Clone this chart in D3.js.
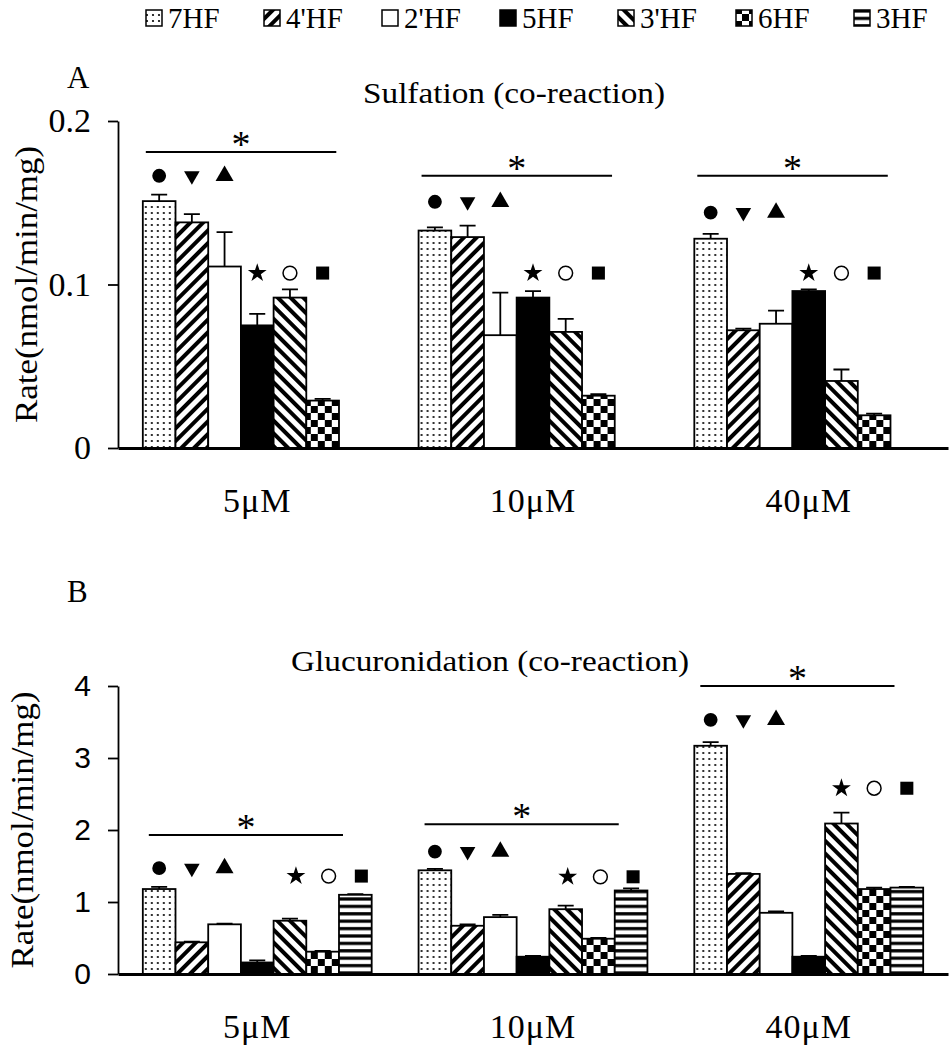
<!DOCTYPE html>
<html>
<head>
<meta charset="utf-8">
<script src="https://cdn.jsdelivr.net/npm/d3@7"></script>
<style>
  body { margin: 0; background: #fff; }
  text { font-family: "Times New Roman", "Liberation Serif", Tinos, serif; fill: #000; }
</style>
</head>
<body>
<script>
// categories
const groups = ["5μM", "10μM", "40μM"]
const compounds = ["7HF", "4'HF", "2'HF", "5HF", "3'HF", "6HF", "3HF"]

// A: sulfation rate (nmol/min/mg), one array per concentration, order = compounds (no 3HF)
const sulfRate5  = [0.151, 0.138, 0.111, 0.075, 0.092, 0.029]
const sulfRate10 = [0.133, 0.129, 0.069, 0.092, 0.071, 0.032]
const sulfRate40 = [0.128, 0.072, 0.076, 0.096, 0.041, 0.020]
const sulfErr5   = [0.004, 0.005, 0.021, 0.007, 0.005, 0.001]
const sulfErr10  = [0.002, 0.007, 0.026, 0.004, 0.008, 0.001]
const sulfErr40  = [0.003, 0.001, 0.008, 0.001, 0.007, 0.001]

// B: glucuronidation rate
const glucRate5  = [1.18, 0.44, 0.69, 0.16, 0.74, 0.31, 1.10]
const glucRate10 = [1.44, 0.67, 0.79, 0.24, 0.90, 0.49, 1.16]
const glucRate40 = [3.17, 1.39, 0.85, 0.24, 2.09, 1.18, 1.20]
const glucErr5   = [0.03, 0.01, 0.01, 0.03, 0.03, 0.01, 0.01]
const glucErr10  = [0.02, 0.02, 0.03, 0.01, 0.05, 0.01, 0.03]
const glucErr40  = [0.05, 0.01, 0.02, 0.01, 0.15, 0.02, 0.01]

// significance marks (in data units): "*" line, first and second symbol rows
const sulfStarLine = [0.181, 0.1665, 0.1665]
const sulfRow1     = [0.1665, 0.1506, 0.144]
const sulfRow2     = [0.107, 0.107, 0.107]
const glucStarLine = [1.93, 2.08, 4.0]
const glucRow1     = [1.47, 1.70, 3.53]
const glucRow2     = [1.36, 1.35, 2.58]

// tick labels
const sulfTicks = [0, 0.1, 0.2]
const glucTicks = [0, 1, 2, 3, 4]

const fills = ["url(#dots)", "url(#diagUp)", "#fff", "#000", "url(#diagDown)", "url(#checker)", "url(#hstripe)"]

const W = 949, H = 1050
const serif = "'Times New Roman', 'Liberation Serif', Tinos, serif"
const sans = "Arial, 'Liberation Sans', Arimo, sans-serif"

const svg = d3.select("body").append("svg")
  .attr("width", W)
  .attr("height", H)

// hatch patterns
const defs = svg.append("defs")

const dots = defs.append("pattern").attr("id", "dots")
  .attr("patternUnits", "userSpaceOnUse").attr("width", 6).attr("height", 6)
dots.append("rect").attr("width", 6).attr("height", 6).attr("fill", "#fff")
dots.append("circle").attr("cx", 3).attr("cy", 3).attr("r", 1.1).attr("fill", "#000")

function diag(id, angle) {
  const p = defs.append("pattern").attr("id", id)
    .attr("patternUnits", "userSpaceOnUse").attr("width", 9).attr("height", 9)
    .attr("patternTransform", "rotate(" + angle + ")")
  p.append("rect").attr("width", 9).attr("height", 9).attr("fill", "#fff")
  p.append("rect").attr("width", 4).attr("height", 9).attr("fill", "#000")
}
diag("diagUp", 45)
diag("diagDown", -45)

const checker = defs.append("pattern").attr("id", "checker")
  .attr("patternUnits", "userSpaceOnUse").attr("width", 14).attr("height", 14)
checker.append("rect").attr("width", 14).attr("height", 14).attr("fill", "#fff")
checker.append("rect").attr("width", 7).attr("height", 7).attr("fill", "#000")
checker.append("rect").attr("x", 7).attr("y", 7).attr("width", 7).attr("height", 7).attr("fill", "#000")

const hstripe = defs.append("pattern").attr("id", "hstripe")
  .attr("patternUnits", "userSpaceOnUse").attr("width", 8).attr("height", 7.4)
hstripe.append("rect").attr("width", 8).attr("height", 7.4).attr("fill", "#fff")
hstripe.append("rect").attr("y", 2).attr("width", 8).attr("height", 3.2).attr("fill", "#000")

// legend
const legend = svg.append("g")
compounds.forEach((c, i) => {
  const lx = 146 + i * 118
  legend.append("rect")
    .attr("x", lx).attr("y", 10).attr("width", 16).attr("height", 16)
    .attr("fill", fills[i]).attr("stroke", "#000").attr("stroke-width", 1.5)
  legend.append("text")
    .attr("x", lx + 22).attr("y", 28)
    .style("font-family", serif)
    .style("font-size", "29px")
    .text(c)
})

function drawPanel(cfg) {
  const y = d3.scaleLinear().domain([0, cfg.max]).range([cfg.y0, cfg.yTop])
  const x0 = d3.scaleBand().domain(groups).range([118, 948]).paddingInner(0.17).paddingOuter(0.09)
  const x1 = d3.scaleBand().domain(compounds).range([0, x0.bandwidth()])

  const g = svg.append("g")

  // panel letter + title
  g.append("text").attr("x", 67).attr("y", cfg.letterY)
    .style("font-family", serif)
    .style("font-size", "31px").text(cfg.letter)
  g.append("text").attr("x", cfg.titleX).attr("y", cfg.titleY)
    .attr("text-anchor", "middle")
    .attr("textLength", cfg.titleLen).attr("lengthAdjust", "spacingAndGlyphs")
    .style("font-family", serif)
    .style("font-size", "30px").text(cfg.title)

  // y label
  g.append("text")
    .attr("transform", "translate(" + cfg.labelX + "," + (cfg.y0 + cfg.yTop) / 2 + ") rotate(-90)")
    .attr("text-anchor", "middle")
    .attr("textLength", 277).attr("lengthAdjust", "spacingAndGlyphs")
    .style("font-family", serif)
    .style("font-size", "32px")
    .text("Rate(nmol/min/mg)")

  // bars
  groups.forEach((grp, gi) => {
    const rates = cfg.rates[gi]
    const errs = cfg.errs[gi]
    const gg = g.append("g").attr("transform", "translate(" + x0(grp) + ",0)")

    const rows = rates.map((v, ci) => ({ c: compounds[ci], v: v, e: errs[ci], i: ci }))

    // error bars (upward only)
    gg.selectAll(".err")
      .data(rows)
      .enter()
      .append("path")
      .attr("d", d => {
        const cx = x1(d.c) + x1.bandwidth() / 2
        return "M" + cx + "," + y(d.v) + "V" + y(d.v + d.e) + "M" + (cx - 8) + "," + y(d.v + d.e) + "H" + (cx + 8)
      })
      .attr("stroke", "#000").attr("stroke-width", 1.8).attr("fill", "none")

    gg.selectAll(".bar")
      .data(rows)
      .enter()
      .append("rect")
      .attr("x", d => x1(d.c))
      .attr("y", d => y(d.v))
      .attr("width", x1.bandwidth())
      .attr("height", d => y(0) - y(d.v))
      .attr("fill", d => fills[d.i])
      .attr("stroke", "#000")
      .attr("stroke-width", 1.8)

    // significance line + asterisk
    const lx1 = x1(compounds[0]) + cfg.lineStart
    const lx2 = x1(compounds[cfg.lineEndBar]) + cfg.lineEnd
    gg.append("line")
      .attr("x1", lx1).attr("x2", lx2)
      .attr("y1", y(cfg.starLine[gi])).attr("y2", y(cfg.starLine[gi]))
      .attr("stroke", "#000").attr("stroke-width", 2)
    gg.append("text")
      .attr("x", (lx1 + lx2) / 2).attr("y", y(cfg.starLine[gi]) + 5)
      .attr("text-anchor", "middle")
      .style("font-family", serif)
      .style("font-size", "38px")
      .text("*")

    // symbol rows
    const row1 = [
      { t: d3.symbolCircle, s: 150, rot: 0, fill: "#000" },
      { t: d3.symbolTriangle, s: 105, rot: 180, fill: "#000" },
      { t: d3.symbolTriangle, s: 140, rot: 0, fill: "#000" }
    ]
    const row2 = [
      { t: d3.symbolStar, s: 110, rot: 0, fill: "#000" },
      { t: d3.symbolCircle, s: 150, rot: 0, fill: "#fff" },
      { t: d3.symbolSquare, s: 170, rot: 0, fill: "#000" }
    ]
    row1.forEach((m, k) => {
      const cx = x1(compounds[k]) + x1.bandwidth() / 2
      gg.append("path")
        .attr("d", d3.symbol().type(m.t).size(m.s)())
        .attr("transform", "translate(" + cx + "," + y(cfg.row1[gi]) + ") rotate(" + m.rot + ")")
        .attr("fill", m.fill)
    })
    row2.forEach((m, k) => {
      const cx = x1(compounds[cfg.row2Bar + k]) + x1.bandwidth() / 2 + cfg.row2Shift[gi]
      gg.append("path")
        .attr("d", d3.symbol().type(m.t).size(m.s)())
        .attr("transform", "translate(" + cx + "," + y(cfg.row2[gi]) + ")")
        .attr("fill", m.fill)
        .attr("stroke", "#000").attr("stroke-width", m.fill == "#fff" ? 1.5 : 0)
    })
  })

  // axes
  const yAxis = d3.axisLeft(y)
    .tickValues(cfg.ticks)
    .tickFormat(d3.format(cfg.fmt))
    .tickSize(10)
    .tickSizeOuter(0)
    .tickPadding(cfg.tickPad)
  const ya = g.append("g")
    .attr("transform", "translate(118,0)")
    .call(yAxis)
  ya.selectAll("text")
    .style("font-family", cfg.tickFont)
    .style("font-size", cfg.tickSize)
  ya.selectAll("line, path").attr("stroke-width", 1.8)

  const xAxis = d3.axisBottom(x0).tickSize(0).tickPadding(40)
  const xa = g.append("g")
    .attr("transform", "translate(0," + cfg.y0 + ")")
    .call(xAxis)
  xa.select(".domain").attr("stroke-width", 3)
  xa.selectAll("text")
    .style("font-family", serif)
    .style("font-size", "34px")
    .attr("letter-spacing", "1px")
}

drawPanel({
  letter: "A", letterY: 88,
  title: "Sulfation (co-reaction)", titleX: 514, titleY: 103, titleLen: 302,
  labelX: 37,
  max: 0.2, y0: 448, yTop: 121,
  rates: [sulfRate5, sulfRate10, sulfRate40],
  errs: [sulfErr5, sulfErr10, sulfErr40],
  starLine: sulfStarLine, row1: sulfRow1, row2: sulfRow2,
  lineStart: 3, lineEndBar: 5, lineEnd: 30,
  row2Bar: 3, row2Shift: [0, 0, 0],
  ticks: sulfTicks, fmt: "", tickPad: 17,
  tickFont: serif, tickSize: "34px"
})

drawPanel({
  letter: "B", letterY: 602,
  title: "Glucuronidation (co-reaction)", titleX: 490, titleY: 671, titleLen: 398,
  labelX: 33,
  max: 4, y0: 974, yTop: 686,
  rates: [glucRate5, glucRate10, glucRate40],
  errs: [glucErr5, glucErr10, glucErr40],
  starLine: glucStarLine, row1: glucRow1, row2: glucRow2,
  lineStart: 6, lineEndBar: 6, lineEnd: 4,
  row2Bar: 4, row2Shift: [6, 2, 0],
  ticks: glucTicks, fmt: "d", tickPad: 17,
  tickFont: sans, tickSize: "30px"
})
</script>
</body>
</html>
